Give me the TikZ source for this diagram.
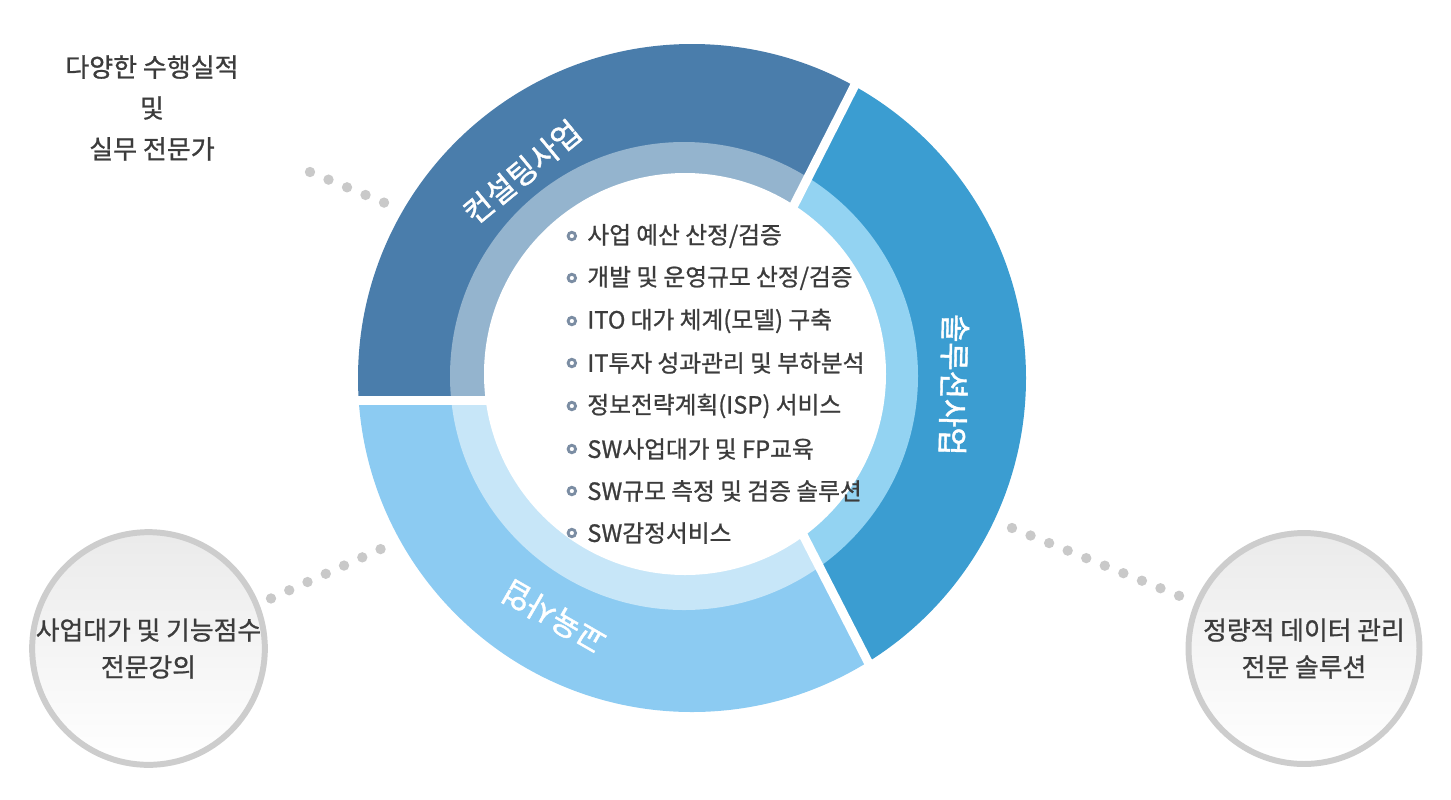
\documentclass[tikz,border=0pt]{standalone}
\usepackage{fontspec}
\setmainfont{Noto Sans CJK KR}
\newfontfamily\medfont{Noto Sans CJK KR}[FakeBold=0.9]
\newfontfamily\heavyfont{Noto Sans CJK KR}[FakeBold=1.4]
\definecolor{consultdark}{HTML}{4A7DAB}
\definecolor{consultlight}{HTML}{94B4CE}
\definecolor{soldark}{HTML}{3B9DD1}
\definecolor{sollight}{HTML}{93D3F2}
\definecolor{edudark}{HTML}{8CCBF2}
\definecolor{edulight}{HTML}{C7E6F8}
\definecolor{dotgray}{HTML}{C9C9C9}
\definecolor{rimgray}{HTML}{CDCDCD}
\definecolor{textgray}{HTML}{3C3C3C}
\definecolor{bulletblue}{HTML}{7B8DA3}
\usepackage{tikz}
\usetikzlibrary{
  positioning,
  calc,
}

\begin{document}
\begin{tikzpicture}[
  x=0.02cm, y=0.02cm,
  ringlabel/.style={
    inner sep=0pt, text=white, font=\heavyfont\fontsize{17.5}{17.5}\selectfont,
  },
  listitem/.style={
    anchor=west, inner sep=0pt, font=\medfont\fontsize{13.5}{16}\selectfont,
    text=textgray, label={[bulletring, xshift=-0.2cm]left:{}},
  },
  bulletring/.style={
    circle, draw=bulletblue, fill=white, line width=1.6pt,
    minimum size=0.15cm, inner sep=0pt,
  },
  bubble/.style={
    circle, draw=rimgray, line width=3.4pt, top color=black!8,
    bottom color=white, minimum size=4.62cm, inner sep=0pt, align=center,
    font=\medfont\fontsize{14.7}{21}\selectfont, text=textgray,
  },
  sidetext/.style={
    align=center, font=\medfont\fontsize{14.8}{23.3}\selectfont, text=textgray,
  },
  dotline/.style={
    draw=dotgray, line width=5.9pt, line cap=round,
    dash pattern=on 0pt off 11.4pt,
  },
  gapline/.style={draw=white, line width=0.18cm},
]
  \useasboundingbox (0,0) rectangle (1451,-799);

  % --- ring ---
  \coordinate (outerc) at (692,-378);
  \coordinate (innerc) at (684,-376);

  \begin{scope}
    \clip (340,-400) -- (340,0) -- (898,0) -- (695,-400) -- cycle;
    \fill[consultdark] (outerc) circle[radius=334];
    \fill[consultlight] (innerc) circle[radius=234];
  \end{scope}
  \begin{scope}
    \clip (898,0) -- (1100,0) -- (1100,-799) -- (940,-799) -- (733,-400) -- (695,-400) -- cycle;
    \fill[soldark] (outerc) circle[radius=334];
    \fill[sollight] (innerc) circle[radius=234];
  \end{scope}
  \begin{scope}
    \clip (340,-400) -- (733,-400) -- (940,-799) -- (340,-799) -- cycle;
    \fill[edudark] (outerc) circle[radius=334];
    \fill[edulight] (innerc) circle[radius=234];
  \end{scope}
  \fill[white] (685,-374) circle[radius=201];

  \draw[gapline] (340,-400) -- (500,-400);
  \draw[gapline] (898,0) -- (790,-213);
  \draw[gapline] (798,-525) -- (885,-695);

  % ring labels
  \node[ringlabel, rotate=39.5] (consult) at ($(outerc)+(129.5:267)$) {컨설팅사업};
  \node[ringlabel, rotate=-91.5] (solution) at ($(outerc)+(-1.5:262)$) {솔루션사업};
  \node[ringlabel, rotate=150] (education) at ($(outerc)+(-120:276)$) {교육사업};

  % --- service list ---
  \node[listitem] (svc1) at (587,-236) {사업 예산 산정/검증};
  \node[listitem] (svc2) at (587,-278) {개발 및 운영규모 산정/검증};
  \node[listitem] (svc3) at (587,-321) {ITO 대가 체계(모델) 구축};
  \node[listitem] (svc4) at (587,-363) {IT투자 성과관리 및 부하분석};
  \node[listitem] (svc5) at (587,-406) {정보전략계획(ISP) 서비스};
  \node[listitem] (svc6) at (587,-449) {SW사업대가 및 FP교육};
  \node[listitem] (svc7) at (587,-491) {SW규모 측정 및 검증 솔루션};
  \node[listitem] (svc8) at (587,-533) {SW감정서비스};

  % --- side notes ---
  \node[sidetext] (expert) at (152,-108) {다양한 수행실적\\및\\실무 전문가};
  \node[bubble] (lecture) at (148.5,-648.5) {사업대가 및 기능점수\\전문강의};
  \node[bubble] (datasol) at (1304,-648.5) {정량적 데이터 관리\\전문 솔루션};

  \coordinate (expertend) at (310,-172);
  \coordinate (ringtl) at (385,-203);
  \coordinate (ringbl) at (383,-548);
  \coordinate (ringr) at (1012,-528);

  \draw[dotline] (expertend) -- (ringtl);
  \draw[dotline, shorten <=7.4pt] (lecture.22) -- (ringbl);
  \draw[dotline, shorten >=7.6pt] (ringr) -- (datasol.157);
\end{tikzpicture}
\end{document}
